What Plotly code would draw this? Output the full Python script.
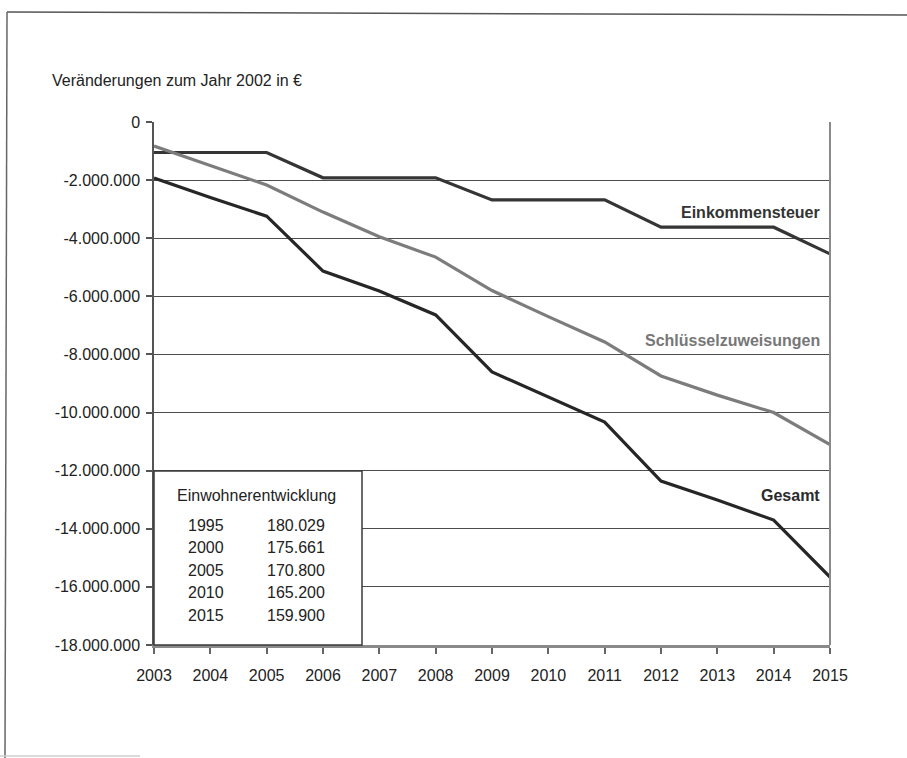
import plotly.graph_objects as go

# --- data -------------------------------------------------------------
years = list(range(2003, 2016))

einkommensteuer = [-1050000, -1050000, -1050000, -1920000, -1920000, -1920000,
                   -2680000, -2680000, -2680000, -3620000, -3620000, -3620000,
                   -4540000]
schluesselzuweisungen = [-830000, -1500000, -2170000, -3100000, -3950000, -4650000,
                         -5800000, -6700000, -7570000, -8740000, -9400000, -10000000,
                         -11100000]
gesamt = [-1930000, -2600000, -3240000, -5130000, -5820000, -6640000,
          -8600000, -9460000, -10330000, -12360000, -13010000, -13700000,
          -15660000]

y_ticks = list(range(0, -18000001, -2000000))
y_tick_labels = [f"{v:,}".replace(",", ".") for v in y_ticks]

pop_title = "Einwohnerentwicklung"
pop_years = ["1995", "2000", "2005", "2010", "2015"]
pop_values = ["180.029", "175.661", "170.800", "165.200", "159.900"]

# --- geometry ---------------------------------------------------------
W, H = 907, 758
L, R, T, B = 154, 830, 122, 645          # plot area in pixels
FONT = "Liberation Sans, Arial, sans-serif"
FS = 16


def px(x):
    return (x - L) / (R - L)


def py(y):
    return (B - y) / (B - T)


fig = go.Figure()

series = [
    ("Einkommensteuer", einkommensteuer, "#353535"),
    ("Schlüsselzuweisungen", schluesselzuweisungen, "#7c7c7c"),
    ("Gesamt", gesamt, "#262626"),
]
for name, vals, col in series:
    fig.add_trace(go.Scatter(x=years, y=vals, mode="lines", name=name,
                             line=dict(color=col, width=3.2),
                             showlegend=False, hoverinfo="x+y"))

annotations = []
# Series labels, right-aligned inside the plot
label_pos = {"Einkommensteuer": (212, "#333333"),
             "Schlüsselzuweisungen": (340, "#777777"),
             "Gesamt": (495, "#2b2b2b")}
for name, (ypix, col) in label_pos.items():
    annotations.append(dict(text=f"<b>{name}</b>", x=px(822), y=py(ypix),
                            xref="paper", yref="paper", xanchor="right",
                            yanchor="middle", showarrow=False,
                            font=dict(family=FONT, size=FS, color=col)))

# Axis title at top left
annotations.append(dict(text="Veränderungen zum Jahr 2002 in €", x=px(50), y=py(80),
                        xref="paper", yref="paper", xanchor="left", yanchor="middle",
                        showarrow=False, font=dict(family=FONT, size=FS, color="#222")))

# Population table inside the box
annotations.append(dict(text=pop_title, x=px(256), y=py(495), xref="paper",
                        yref="paper", xanchor="center", yanchor="middle",
                        showarrow=False, font=dict(family=FONT, size=FS, color="#222")))
for i, (yr, val) in enumerate(zip(pop_years, pop_values)):
    ypix = 525 + i * 22.5
    annotations.append(dict(text=yr, x=px(206), y=py(ypix), xref="paper", yref="paper",
                            xanchor="center", yanchor="middle", showarrow=False,
                            font=dict(family=FONT, size=FS, color="#222")))
    annotations.append(dict(text=val, x=px(296), y=py(ypix), xref="paper", yref="paper",
                            xanchor="center", yanchor="middle", showarrow=False,
                            font=dict(family=FONT, size=FS, color="#222")))

shapes = [
    # white box holding the population table
    dict(type="rect", xref="paper", yref="paper", x0=px(L), x1=px(362),
         y0=py(B), y1=py(471), fillcolor="white",
         line=dict(color="#3a3a3a", width=1.5), layer="above"),
    # right border of the plot
    dict(type="line", xref="paper", yref="paper", x0=1, x1=1, y0=0, y1=1,
         line=dict(color="#8a8a8a", width=2)),
    # page frame
    dict(type="line", xref="paper", yref="paper", x0=px(7), x1=px(907),
         y0=py(12), y1=py(15), line=dict(color="#555", width=1.5)),
    dict(type="line", xref="paper", yref="paper", x0=px(7), x1=px(5),
         y0=py(12), y1=py(758), line=dict(color="#666", width=1.5)),
    dict(type="line", xref="paper", yref="paper", x0=px(0), x1=px(140),
         y0=py(756), y1=py(756), line=dict(color="#cfcfcf", width=1.5)),
]

fig.update_layout(
    width=W, height=H,
    margin=dict(l=L, r=W - R, t=T, b=H - B, pad=0),
    paper_bgcolor="white", plot_bgcolor="white",
    font=dict(family=FONT, size=FS, color="#222"),
    annotations=annotations, shapes=shapes,
    showlegend=False,
)
fig.update_xaxes(range=[2003, 2015], tickvals=years, ticktext=[str(y) for y in years],
                 showgrid=False, zeroline=False, showline=True,
                 linecolor="#8a8a8a", linewidth=3, ticks="outside", ticklen=6,
                 tickcolor="#666", tickwidth=1.5, ticklabelstandoff=8,
                 tickfont=dict(family=FONT, size=FS, color="#222"))
fig.update_yaxes(range=[-18000000, 0], tickvals=y_ticks, ticktext=y_tick_labels,
                 showgrid=True, gridcolor="#4d4d4d", gridwidth=1.4, zeroline=False,
                 showline=True, linecolor="#555", linewidth=1.5,
                 ticks="outside", ticklen=6, tickcolor="#555", tickwidth=1.5,
                 ticklabelstandoff=3,
                 tickfont=dict(family=FONT, size=FS, color="#222"))

fig.write_html("out.html")
